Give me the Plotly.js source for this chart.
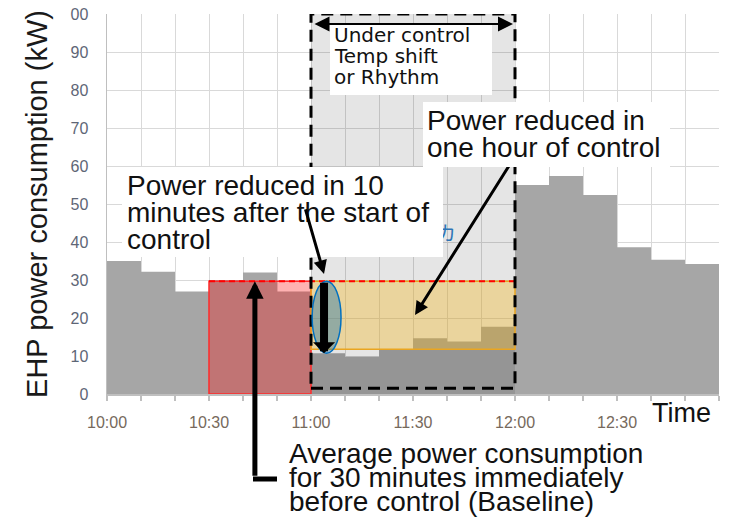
<!DOCTYPE html>
<html>
<head>
<meta charset="utf-8">
<script src="https://cdn.plot.ly/plotly-3.0.1.min.js"></script>
<style>html,body{margin:0;padding:0;background:#fff;}#chart{width:736px;height:518px;}</style>
</head>
<body>
<div id="chart"></div>
<script>
// ---- data ----
const times = ['10:00','10:10','10:20','10:30','10:40','10:50','11:00','11:10','11:20','11:30','11:40','11:50','12:00','12:10','12:20','12:30','12:40','12:50'];
const power = [35, 32.2, 27, 30, 32, 27, 10.7, 9.8, 11.6, 14.7, 13.8, 17.7, 55, 57.4, 52.4, 38.6, 35.3, 34.2];
const endTime = '13:00';
const tickTimes = times.concat([endTime]);
const tickLabels = ['10:00','','','10:30','','','11:00','','','11:30','','','12:00','','','12:30','','',''];
const yTicks = [0,10,20,30,40,50,60,70,80,90,100];
const yTickLabels = ['0','10','20','30','40','50','60','70','80','90','00'];
const baselineWindow = ['10:30','10:40','10:50'];
const controlStart = '11:00';
const controlEnd = '12:00';
const reducedLevel = 11.8;

// ---- helpers ----
const D = t => '2020-01-01 ' + t;
const baseline = baselineWindow.map(t => power[times.indexOf(t)]).reduce((a,b)=>a+b,0) / baselineWindow.length;
const firstControlValue = power[times.indexOf(controlStart)];
// pixel -> paper helpers for text placement (plot area: x 107..719, y 14..394)
const L = 107, R = 719, T = 14, B = 394;
const px = x => (x - L) / (R - L);
const py = y => (B - y) / (B - T);

const FONT = 'Liberation Sans, Arial, sans-serif';

const trace = {
  x: tickTimes.map(D),
  y: power.concat([power[power.length-1]]),
  type: 'scatter', mode: 'lines',
  line: {shape: 'hv', width: 0, color: '#a6a6a6'},
  fill: 'tozeroy', fillcolor: '#a6a6a6',
  hoverinfo: 'skip'
};

function textLine(text, x, yc, size, family) {
  return {xref:'paper', yref:'paper', x: px(x), y: py(yc), xanchor:'left', yanchor:'middle',
          text: text, showarrow:false, font:{family: family || FONT, size: size, color:'#111'}};
}
function box(x0, y0, x1, y1) {
  return {xref:'paper', yref:'paper', x: px(x0), y: py(y0), xanchor:'left', yanchor:'top',
          width: x1 - x0, height: y1 - y0, text:' ', bgcolor:'#ffffff', showarrow:false,
          borderpad:0, borderwidth:0};
}

const shapes = [
  // control period background
  {type:'rect', layer:'above', xref:'x', yref:'y', x0:D(controlStart), x1:D(controlEnd), y0:0, y1:100,
   fillcolor:'rgba(0,0,0,0.10)', line:{width:0}},
  // baseline box
  {type:'rect', layer:'above', xref:'x', yref:'y', x0:D(baselineWindow[0]), x1:D(controlStart), y0:0, y1:baseline,
   fillcolor:'rgba(255,0,0,0.30)', line:{color:'#ff2a2a', width:1.5}},
  // reduction box
  {type:'rect', layer:'above', xref:'x', yref:'y', x0:D(controlStart), x1:D(controlEnd), y0:reducedLevel, y1:baseline,
   fillcolor:'rgba(242,187,50,0.40)', line:{color:'#eaa520', width:1.5}},
  // baseline dashed line
  {type:'line', layer:'above', xref:'x', yref:'y', x0:D(baselineWindow[0]), x1:D(controlEnd), y0:baseline, y1:baseline,
   line:{color:'#ff0000', width:2, dash:'6px,4px'}},
  // control frame
  {type:'rect', layer:'above', xref:'x', yref:'y', x0:D(controlStart), x1:D(controlEnd), y0:1.5, y1:100,
   fillcolor:'rgba(0,0,0,0)', line:{color:'#000', width:3, dash:'12px,7px'}},
  // ellipse
  {type:'circle', layer:'above', xref:'x', yref:'y', x0:D('11:00:20'), x1:D('11:08:50'), y0:firstControlValue, y1:baseline,
   fillcolor:'rgba(20,110,170,0.40)', line:{color:'#0070c0', width:1.5}},
  // elbow stub of the baseline arrow
  {type:'line', xref:'paper', yref:'paper', x0:px(253), x1:px(277), y0:py(479), y1:py(479),
   line:{color:'#000', width:5}}
];

const annotations = [
  // partially hidden blue character
  {xref:'paper', yref:'paper', x:px(446), y:py(232), xanchor:'center', yanchor:'middle', text:'カ', showarrow:false,
   font:{family:'Noto Sans CJK JP', size:20, color:'#2e75b6'}},
  // arrow from "one hour" box
  {xref:'x', yref:'y', x:D('11:30:36'), y:20.8, ax:97, ay:-154, text:'', showarrow:true,
   arrowhead:2, arrowsize:0.9, arrowwidth:3, arrowcolor:'#000'},
  // white boxes
  box(122, 167, 443, 257),
  box(423, 102, 670, 167),
  box(330, 25, 492, 95),
  // texts
  textLine('Power reduced in 10', 125, 185.5, 28),
  textLine('minutes after the start of', 125, 212, 28),
  textLine('control', 125, 239.5, 28),
  textLine('Power reduced in', 425, 120.5, 28),
  textLine('one hour of control', 425, 147, 28),
  textLine('Under control', 332, 35, 20, 'DejaVu Sans'),
  textLine('Temp shift', 332, 56, 20, 'DejaVu Sans'),
  textLine('or Rhythm', 332, 76.5, 20, 'DejaVu Sans'),
  textLine('Average power consumption', 287, 453.5, 28),
  textLine('for 30 minutes immediately', 287, 477.5, 28),
  textLine('before control (Baseline)', 287, 501.5, 28),
  {xref:'paper', yref:'paper', x:px(681), y:py(413), xanchor:'center', yanchor:'middle', text:'Time', showarrow:false,
   font:{family:FONT, size:27, color:'#111'}},
  // double arrow for control period
  {xref:'x', yref:'y', x:D(controlEnd), y:97.4, axref:'x', ayref:'y', ax:D(controlStart), ay:97.4, text:'',
   showarrow:true, arrowside:'end+start', arrowhead:2, startarrowhead:2, arrowsize:1.5, startarrowsize:1.5,
   arrowwidth:2, arrowcolor:'#000', standoff:2, startstandoff:2},
  // thick arrow: baseline -> first control value
  {xref:'x', yref:'y', x:D('11:03:50'), y:firstControlValue, axref:'x', ayref:'y', ax:D('11:03:50'), ay:baseline,
   text:'', showarrow:true, arrowhead:1, arrowsize:0.46, arrowwidth:8, arrowcolor:'#000'},
  // thin arrow from "10 minutes" text
  {xref:'x', yref:'y', x:D('11:03:50'), y:31.6, ax:-19, ay:-66, text:'', showarrow:true,
   arrowhead:2, arrowsize:0.9, arrowwidth:3, arrowcolor:'#000'},
  // baseline arrow
  {xref:'x', yref:'y', x:D('10:43:30'), y:baseline, ax:0, ay:196, text:'', showarrow:true,
   arrowhead:2, arrowsize:0.7, arrowwidth:5, arrowcolor:'#000'}
];

const layout = {
  width:736, height:518,
  margin:{l:L, r:736-R, t:T, b:518-B},
  paper_bgcolor:'#fff', plot_bgcolor:'#fff',
  showlegend:false,
  font:{family:FONT},
  xaxis:{
    type:'date', range:[D('10:00'), D(endTime)],
    tickmode:'array', tickvals:tickTimes.map(D), ticktext:tickLabels,
    showgrid:true, gridcolor:'#d9d9d9', gridwidth:1,
    ticks:'outside', ticklen:5, tickcolor:'#bfbfbf', tickwidth:1.5,
    showline:true, linecolor:'#bfbfbf', linewidth:1.5, zeroline:false,
    tickfont:{family:FONT, size:16, color:'#76695c'}, ticklabelstandoff:8
  },
  yaxis:{
    range:[0,100], tickmode:'array', tickvals:yTicks, ticktext:yTickLabels,
    showgrid:true, gridcolor:'#d9d9d9', gridwidth:1,
    ticks:'', showline:true, linecolor:'#bfbfbf', linewidth:1.5, zeroline:false,
    tickfont:{family:FONT, size:16, color:'#5e6676'}, ticklabelstandoff:14,
    title:{text:'EHP power consumption (kW)', font:{family:FONT, size:29, color:'#1a1a1a'}, standoff:14}
  },
  shapes: shapes,
  annotations: annotations
};

Plotly.newPlot('chart', [trace], layout, {displayModeBar:false, staticPlot:true});
</script>
</body>
</html>
